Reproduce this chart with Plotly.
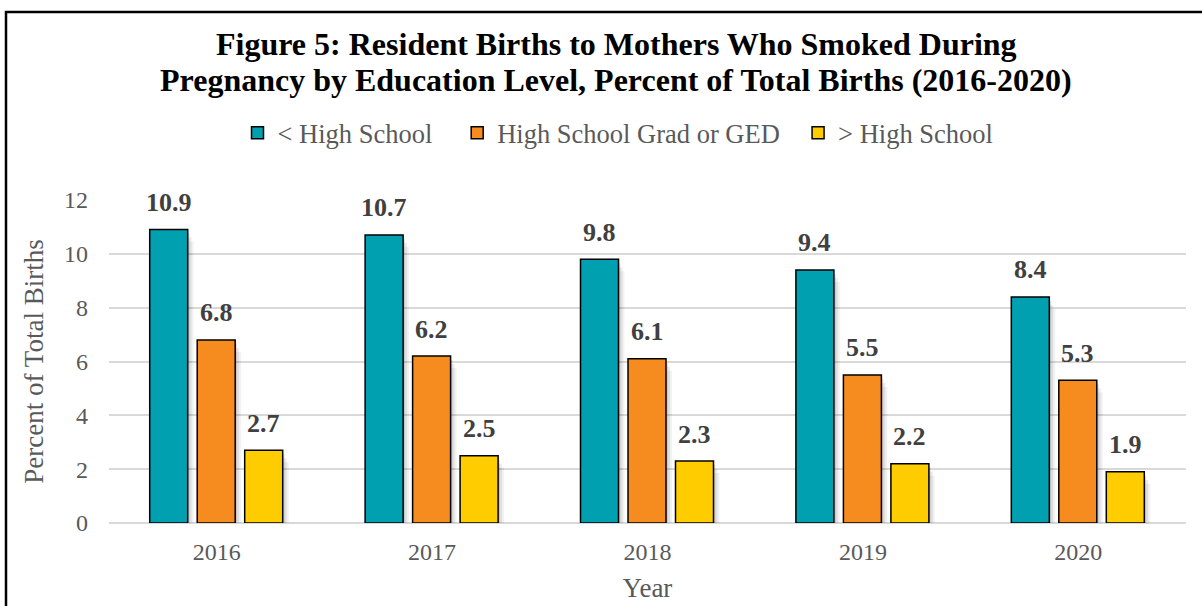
import plotly.graph_objects as go

years = ["2016", "2017", "2018", "2019", "2020"]
series_names = ["< High School", "High School Grad or GED", "> High School"]
less_hs = [10.9, 10.7, 9.8, 9.4, 8.4]
hs_grad = [6.8, 6.2, 6.1, 5.5, 5.3]
more_hs = [2.7, 2.5, 2.3, 2.2, 1.9]
colors = ["#00A0B0", "#F68B1F", "#FFCC00"]
title_lines = ["Figure 5: Resident Births to Mothers Who Smoked During",
               "Pregnancy by Education Level, Percent of Total Births (2016-2020)"]

W, H = 1202, 606
L, R, T, B = 109, 16, 200, 83
pw, ph = W - L - R, H - T - B
SERIF = "Liberation Serif, Times New Roman, serif"

# bar geometry in category units
BAR_W = 0.1764
SLOT = 0.2205
GROUP_LEFT = -0.311
px_x = 5.0 / pw          # one pixel in x data units
px_y = 12.0 / ph         # one pixel in y data units
xs = list(range(len(years)))

fig = go.Figure()
all_series = [less_hs, hs_grad, more_hs]

# soft shadows
for i, vals in enumerate(all_series):
    for k, a in [(6, 0.05), (4, 0.07), (2, 0.10)]:
        fig.add_trace(go.Bar(
            x=xs, y=[v - k * px_y for v in vals], base=-k * px_y,
            offset=GROUP_LEFT + i * SLOT + k * px_x, width=BAR_W,
            marker=dict(color=f"rgba(0,0,0,{a})", line=dict(width=0)),
            showlegend=False, hoverinfo="skip",
        ))

pad = ["\u00a0\u00a0\u00a0", "\u00a0\u00a0", ""]
for i, (name, vals, col) in enumerate(zip(series_names, all_series, colors)):
    fig.add_trace(go.Bar(
        x=xs, y=vals, name=name + pad[i],
        offset=GROUP_LEFT + i * SLOT, width=BAR_W,
        marker=dict(color=col, line=dict(color="#000000", width=1.5)),
    ))

annotations = []
for i, vals in enumerate(all_series):
    for x, v in zip(xs, vals):
        annotations.append(dict(
            x=x + GROUP_LEFT + i * SLOT + BAR_W / 2, y=v,
            xref="x", yref="y", text=f"<b>{v:.1f}</b>",
            font=dict(family=SERIF, size=26, color="#404040"),
            showarrow=False, yanchor="middle", yshift=27,
        ))

for line, yc in zip(title_lines, [44, 80]):
    annotations.append(dict(
        text=f"<b>{line}</b>",
        font=dict(family=SERIF, size=32, color="#000000"),
        xref="paper", yref="paper",
        x=(616 - L) / pw, xanchor="center",
        y=(H - B - yc) / ph, yanchor="middle",
        showarrow=False,
    ))

fig.update_layout(
    width=W, height=H,
    margin=dict(l=L, r=R, t=T, b=B),
    paper_bgcolor="white", plot_bgcolor="white",
    barmode="overlay",
    font=dict(family=SERIF, color="#595959"),
    legend=dict(
        orientation="h", x=(618 - L) / pw, xanchor="center",
        y=1 + (200 - 133) / ph, yanchor="middle",
        font=dict(family=SERIF, size=26.5, color="#595959"),
        itemwidth=30, traceorder="normal",
    ),
    xaxis=dict(
        range=[-0.5, 4.5], tickvals=xs, ticktext=years,
        title=dict(text="Year", font=dict(family=SERIF, size=27, color="#595959"), standoff=14),
        tickfont=dict(family=SERIF, size=24, color="#595959"),
        showline=False, ticks="", ticklabelstandoff=12, showgrid=False, zeroline=False,
        automargin=False,
    ),
    yaxis=dict(
        title=dict(text="Percent of Total Births", font=dict(family=SERIF, size=27, color="#595959"), standoff=12),
        range=[0, 12], dtick=2,
        tickfont=dict(family=SERIF, size=24, color="#595959"),
        gridcolor="#D9D9D9", gridwidth=1.5,
        zeroline=True, zerolinecolor="#D9D9D9", zerolinewidth=2,
        showline=False, ticks="", ticklabelstandoff=20, automargin=False,
    ),
    annotations=annotations,
    shapes=[dict(
        type="rect", xref="paper", yref="paper",
        x0=(6 - L) / pw, x1=(1260 - L) / pw,
        y0=(H - B - 660) / ph, y1=(H - B - 12) / ph,
        line=dict(color="#000000", width=2.5), fillcolor="rgba(0,0,0,0)", layer="above",
    )],
)

fig.write_html("out.html")
